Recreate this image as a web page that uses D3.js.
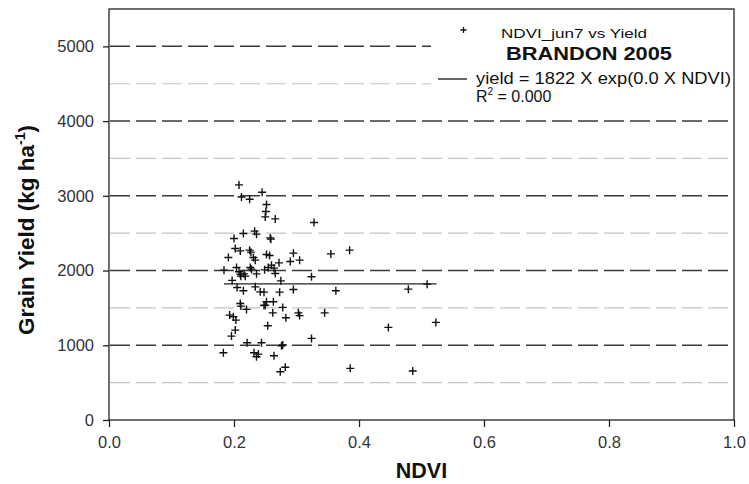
<!DOCTYPE html>
<html>
<head>
<meta charset="utf-8">
<script src="https://cdn.jsdelivr.net/npm/d3@7"></script>
<style>
    body { margin: 0; background: #fff; }
    svg { font-family: "Liberation Sans", Arial, sans-serif; }
</style>
</head>
<body>
<svg id="chart" width="749" height="484"></svg>
<script>
// NDVI (jun 7) vs grain yield, Brandon 2005
const ndvi = [
    0.208, 0.212, 0.225, 0.245, 0.252, 0.251, 0.250, 0.266, 0.328, 0.215,
    0.200, 0.236, 0.233, 0.258, 0.259, 0.202, 0.210, 0.225, 0.227, 0.231,
    0.234, 0.252, 0.257, 0.295, 0.355, 0.385, 0.191, 0.272, 0.290, 0.305,
    0.184, 0.204, 0.226, 0.228, 0.249, 0.255, 0.260, 0.208, 0.211, 0.218,
    0.197, 0.210, 0.266, 0.324, 0.205, 0.215, 0.234, 0.242, 0.273, 0.295,
    0.363, 0.275, 0.210, 0.211, 0.220, 0.250, 0.252, 0.263, 0.278, 0.262,
    0.283, 0.303, 0.305, 0.345, 0.193, 0.199, 0.203, 0.254, 0.202, 0.196,
    0.324, 0.221, 0.244, 0.278, 0.183, 0.232, 0.239, 0.236, 0.264, 0.276,
    0.274, 0.282, 0.386, 0.479, 0.509, 0.447, 0.523, 0.486, 0.236, 0.216,
    0.264, 0.248, 0.248
];
const grainYield = [
    3146, 2985, 2955, 3048, 2884, 2790, 2718, 2691, 2643, 2496,
    2429, 2487, 2527, 2437, 2420, 2295, 2263, 2273, 2246, 2175,
    2139, 2215, 2202, 2233, 2223, 2273, 2175, 2103, 2122, 2139,
    2005, 2041, 2041, 2019, 2009, 2041, 2072, 1983, 1925, 1925,
    1868, 1952, 1961, 1916, 1774, 1729, 1782, 1715, 1711, 1747,
    1729, 1862, 1560, 1524, 1480, 1537, 1582, 1582, 1507, 1434,
    1368, 1434, 1397, 1434, 1404, 1381, 1337, 1261, 1203, 1123,
    1092, 1033, 1033, 1003, 900, 900, 882, 846, 860, 993,
    646, 705, 691, 1751, 1818, 1239, 1306, 655, 1956, 1956,
    2032, 1711, 1533
];
const yTicks = [0, 1000, 2000, 3000, 4000, 5000];
const yMinor = [500, 1500, 2500, 3500, 4500];
const xTicks = [0.0, 0.2, 0.4, 0.6, 0.8, 1.0];
// fitted model: yield = a * exp(b * NDVI), drawn over the NDVI range of the data
const fitA = 1822;
const fitB = 0.0;
const fitRange = [0.184, 0.524];

const margin = { top: 9, right: 15, bottom: 64, left: 109 };
const width = 749 - margin.left - margin.right;
const height = 484 - margin.top - margin.bottom;

const svg = d3.select("#chart");
const g = svg.append("g").attr("transform", `translate(${margin.left},${margin.top})`);

const x = d3.scaleLinear().domain([0, 1]).range([0, width]);
const y = d3.scaleLinear().domain([0, 5500]).range([height, 0]);

// grid lines
g.append("g").selectAll("line")
    .data(yMinor)
    .join("line")
    .attr("x1", 1).attr("x2", width)
    .attr("y1", d => y(d)).attr("y2", d => y(d))
    .attr("stroke", "#c4c4c4")
    .attr("stroke-width", 1.2)
    .attr("stroke-dasharray", "20,6");

g.append("g").selectAll("line")
    .data(yTicks.filter(d => d > 0))
    .join("line")
    .attr("x1", 1).attr("x2", width)
    .attr("y1", d => y(d)).attr("y2", d => y(d))
    .attr("stroke", "#3a3a3a")
    .attr("stroke-width", 1.5)
    .attr("stroke-dasharray", "20,6");

// axes
const tickFont = (sel) => sel.selectAll("text")
    .attr("font-size", "16.5px")
    .attr("fill", "#333");

const yAxis = g.append("g")
    .call(d3.axisLeft(y).tickValues(yTicks).tickSize(6).tickPadding(9).tickFormat(d3.format("d")))
    .call(tickFont);
yAxis.select(".domain").remove();

const xAxis = g.append("g")
    .attr("transform", `translate(0,${height})`)
    .call(d3.axisBottom(x).tickValues(xTicks).tickSize(7).tickPadding(9).tickFormat(d3.format(".1f")))
    .call(tickFont);
xAxis.select(".domain").remove();

g.selectAll(".tick line").attr("stroke", "#222").attr("stroke-width", 1.3);

// frame
g.append("rect")
    .attr("width", width).attr("height", height)
    .attr("fill", "none")
    .attr("stroke", "#222")
    .attr("stroke-width", 1.3);

// fitted curve
const fitLine = d3.line()
    .x(d => x(d))
    .y(d => y(fitA * Math.exp(fitB * d)));
g.append("path")
    .datum(fitRange)
    .attr("d", fitLine)
    .attr("fill", "none")
    .attr("stroke", "#222")
    .attr("stroke-width", 1.4);

// data points as "+" marks
const plus = (cx, cy, r) => `M${cx - r},${cy}H${cx + r}M${cx},${cy - r}V${cy + r}`;
g.append("g").selectAll("path")
    .data(d3.range(ndvi.length))
    .join("path")
    .attr("d", i => plus(x(ndvi[i]), y(grainYield[i]), 4))
    .attr("stroke", "#111")
    .attr("stroke-width", 1.4)
    .attr("fill", "none");

// legend
const legend = svg.append("g");
legend.append("rect")
    .attr("x", 431).attr("y", 11)
    .attr("width", 300).attr("height", 100)
    .attr("fill", "#fff");

legend.append("path")
    .attr("d", plus(463.5, 30, 3))
    .attr("stroke", "#111")
    .attr("stroke-width", 1.3);

legend.append("text")
    .attr("x", 501).attr("y", 37.5)
    .attr("font-size", "13.5px")
    .attr("textLength", 146).attr("lengthAdjust", "spacingAndGlyphs")
    .attr("fill", "#111")
    .text("NDVI_jun7 vs Yield");

legend.append("text")
    .attr("x", 506).attr("y", 60)
    .attr("font-size", "19px")
    .attr("font-weight", "bold")
    .attr("textLength", 166).attr("lengthAdjust", "spacingAndGlyphs")
    .attr("fill", "#111")
    .text("BRANDON 2005");

legend.append("line")
    .attr("x1", 438).attr("x2", 467)
    .attr("y1", 79).attr("y2", 79)
    .attr("stroke", "#222")
    .attr("stroke-width", 1.4);

legend.append("text")
    .attr("x", 476).attr("y", 83.5)
    .attr("font-size", "16px")
    .attr("textLength", 255).attr("lengthAdjust", "spacingAndGlyphs")
    .attr("fill", "#111")
    .text(`yield = ${fitA} X exp(${fitB.toFixed(1)} X NDVI)`);

const r2 = legend.append("text")
    .attr("x", 476).attr("y", 102)
    .attr("font-size", "16px")
    .attr("fill", "#111");
r2.append("tspan").text("R");
r2.append("tspan").attr("font-size", "10px").attr("dy", -7).text("2");
r2.append("tspan").attr("dy", 7).text(" = 0.000");

// axis titles
svg.append("text")
    .attr("x", margin.left + width / 2).attr("y", 478)
    .attr("text-anchor", "middle")
    .attr("font-size", "21.5px")
    .attr("font-weight", "bold")
    .attr("fill", "#111")
    .text("NDVI");

const yTitle = svg.append("text")
    .attr("transform", "translate(33.5,230) rotate(-90)")
    .attr("text-anchor", "middle")
    .attr("font-size", "22.5px")
    .attr("font-weight", "bold")
    .attr("fill", "#111");
yTitle.append("tspan").text("Grain Yield (kg ha");
yTitle.append("tspan").attr("font-size", "14px").attr("dy", -9).text("-1");
yTitle.append("tspan").attr("dy", 9).text(")");
</script>
</body>
</html>
